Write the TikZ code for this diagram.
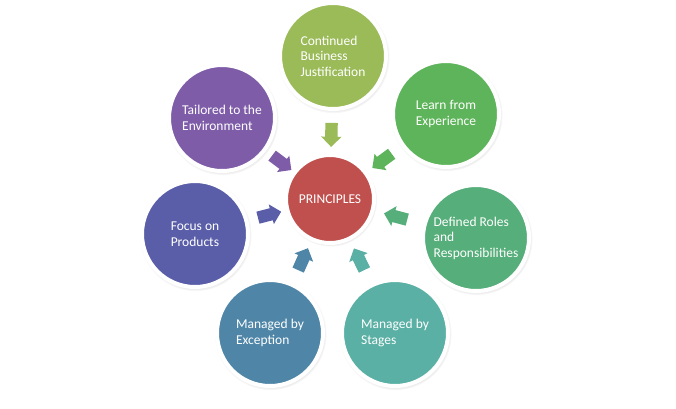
\documentclass[tikz,border=0pt]{standalone}
\usepackage{fontspec}
\setmainfont{Carlito}
\usepackage{tikz}
\usetikzlibrary{shapes.arrows,shadows,calc}
\definecolor{prRed}{RGB}{192,80,77}
\definecolor{prOlive}{RGB}{155,187,89}
\definecolor{prGreen}{RGB}{94,180,90}
\definecolor{prJade}{RGB}{86,174,122}
\definecolor{prTeal}{RGB}{90,176,164}
\definecolor{prSteel}{RGB}{79,134,168}
\definecolor{prIndigo}{RGB}{90,94,168}
\definecolor{prPurple}{RGB}{126,92,168}

\begin{document}
\begin{tikzpicture}[x=1pt,y=-1pt,
  principle/.style={circle,draw=white,line width=4pt,minimum size=106pt,inner sep=0pt,
    text=white,align=left,font=\fontsize{13.5}{15.5}\selectfont,
    circular drop shadow={shadow scale=1.06,opacity=0.45,shadow xshift=0.5pt,shadow yshift=-1pt}},
  pointer/.style={single arrow,draw=none,inner sep=6pt,minimum height=24pt,
    single arrow head extend=4pt}]
\useasboundingbox (0,0) rectangle (676,408);
\node[principle,fill=prRed,minimum size=88pt] (core) at (330,199) {PRINCIPLES};
\foreach \name/\px/\py/\col/\txt in {
    justify/333/56/prOlive/{Continued\\Business\\Justification},
    learn/446/114/prGreen/{Learn from\\Experience},
    roles/476/238/prJade/{Defined Roles\\and\\Responsibilities},
    stages/395/333/prTeal/{Managed by\\Stages},
    exception/270/333/prSteel/{Managed by\\Exception},
    products/195/234/prIndigo/{Focus on\\Products},
    tailor/222/118/prPurple/{Tailored to the\\Environment}}{
  \node[principle,fill=\col] (\name) at (\px,\py) {\txt};
  \path let \p1=($(core)-(\name)$), \n1={atan2(\y1,\x1)} in
    node[pointer,fill=\col,rotate=\n1] (\name-arrow) at ($(\name)!0.53!(core)$) {};
}
\end{tikzpicture}
\end{document}
